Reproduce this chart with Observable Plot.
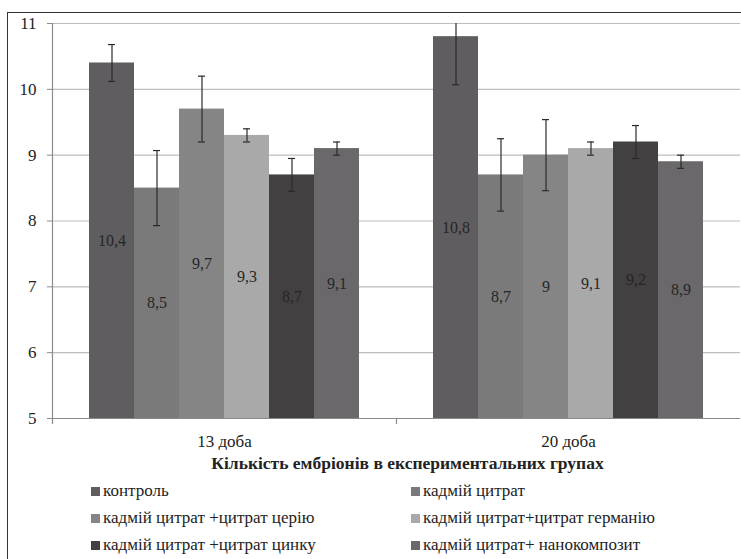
<!DOCTYPE html>
<html>
<head>
<meta charset="utf-8">
<script src="https://cdn.jsdelivr.net/npm/d3@7"></script>
<script src="https://cdn.jsdelivr.net/npm/@observablehq/plot@0.6"></script>
<style>
  html, body { margin: 0; padding: 0; background: #fff; }
  body { width: 741px; height: 559px; overflow: hidden; position: relative; font-family: "Times New Roman", "Liberation Serif", "DejaVu Serif", serif; color: #222; }
  #frame { position: absolute; left: 7px; top: 12px; width: 800px; height: 600px; border: 1.5px solid #333; box-sizing: border-box; }
  #chart { position: absolute; left: 0; top: 0; }
  #chart svg, #chart svg text { font-family: "Times New Roman", "Liberation Serif", "DejaVu Serif", serif !important; }
  #title { position: absolute; top: 452px; left: 0; width: 815px; text-align: center; font-weight: bold; font-size: 17.5px; line-height: 22px; }
  .leg { position: absolute; font-size: 17px; line-height: 20px; white-space: nowrap; }
  .leg .sw { position: absolute; left: -12px; top: 6px; width: 9px; height: 9px; }
</style>
</head>
<body>
<div id="frame"></div>
<div id="chart"></div>
<div id="title">Кількість ембріонів в експериментальних групах</div>
<div id="legend"></div>
<script>
const groups = ["13 доба", "20 доба"];
const series = [
  "контроль",
  "кадмій цитрат",
  "кадмій цитрат +цитрат церію",
  "кадмій цитрат+цитрат германію",
  "кадмій цитрат +цитрат цинку",
  "кадмій цитрат+ нанокомпозит"
];
const colors = ["#5f5d5f", "#7a7a7a", "#858585", "#a9a9a9", "#434041", "#6a686a"];
const values13 = [10.4, 8.5, 9.7, 9.3, 8.7, 9.1];
const values20 = [10.8, 8.7, 9.0, 9.1, 9.2, 8.9];
const errors13 = [0.28, 0.57, 0.5, 0.1, 0.25, 0.1];
const errors20 = [0.73, 0.55, 0.54, 0.1, 0.25, 0.1];
const yTicks = [5, 6, 7, 8, 9, 10, 11];

const data = [];
series.forEach((s, i) => {
  data.push({group: groups[0], series: s, value: values13[i], err: errors13[i]});
  data.push({group: groups[1], series: s, value: values20[i], err: errors20[i]});
});

const marginTop = 23, marginBottom = 32, height = 450;
const plotH = height - marginTop - marginBottom;
const fmt = v => String(v).replace(".", ",");
const serif = "'Times New Roman', 'Liberation Serif', 'DejaVu Serif', serif";

const chart = Plot.plot({
  width: 741,
  height,
  marginLeft: 52,
  marginRight: 1,
  marginTop,
  marginBottom,
  style: {fontFamily: serif, fontSize: "17px", color: "#222", background: "transparent"},
  fx: {domain: groups, padding: 0, label: null},
  x: {domain: series, paddingInner: 0, paddingOuter: 0.75, axis: null},
  y: {domain: [5, 11], ticks: yTicks, label: null},
  color: {domain: series, range: colors},
  marks: [
    Plot.ruleY(yTicks.slice(1), {stroke: "#bdbdbd", strokeWidth: 1.2}),
    Plot.barY(data, {fx: "group", x: "series", y1: 5, y2: "value", fill: "series"}),
    Plot.ruleY([5], {stroke: "#8a8a8a", strokeWidth: 1.2}),
    Plot.frame({anchor: "left", stroke: "#8a8a8a", strokeWidth: 1.2, facetAnchor: "left"}),
    Plot.frame({anchor: "left", stroke: "#8a8a8a", strokeWidth: 1.2, insetTop: plotH, insetBottom: -5}),
    Plot.ruleX(data, {fx: "group", x: "series", y1: d => d.value - d.err, y2: d => d.value + d.err, stroke: "#2a2a2a", strokeWidth: 1.2, clip: true}),
    Plot.tickY(data, {fx: "group", x: "series", y: d => d.value + d.err, stroke: "#2a2a2a", strokeWidth: 1.2, insetLeft: 19, insetRight: 19, clip: true}),
    Plot.tickY(data, {fx: "group", x: "series", y: d => d.value - d.err, stroke: "#2a2a2a", strokeWidth: 1.2, insetLeft: 19, insetRight: 19}),
    Plot.text(data, {fx: "group", x: "series", y: d => (5 + d.value) / 2, text: d => fmt(d.value), fill: "#262626", fontSize: 16, fontFamily: serif}),
    Plot.axisY({ticks: yTicks, tickFormat: d => String(d), tickSize: 5, tickPadding: 11, stroke: "#8a8a8a", fill: "#222", fontSize: 17, fontFamily: serif, label: null}),
    Plot.axisFx({anchor: "bottom", tickSize: 0, tickPadding: 16, fontSize: 17, fontFamily: serif, fill: "#222", label: null})
  ]
});
document.getElementById("chart").appendChild(chart);

const legend = document.getElementById("legend");
const colX = [103, 423];
const rowY = [481, 508, 535];
series.forEach((s, i) => {
  const el = document.createElement("div");
  el.className = "leg";
  el.style.left = colX[i % 2] + "px";
  el.style.top = rowY[Math.floor(i / 2)] + "px";
  el.innerHTML = `<span class="sw" style="background:${colors[i]}"></span>${s}`;
  legend.appendChild(el);
});
</script>
</body>
</html>
